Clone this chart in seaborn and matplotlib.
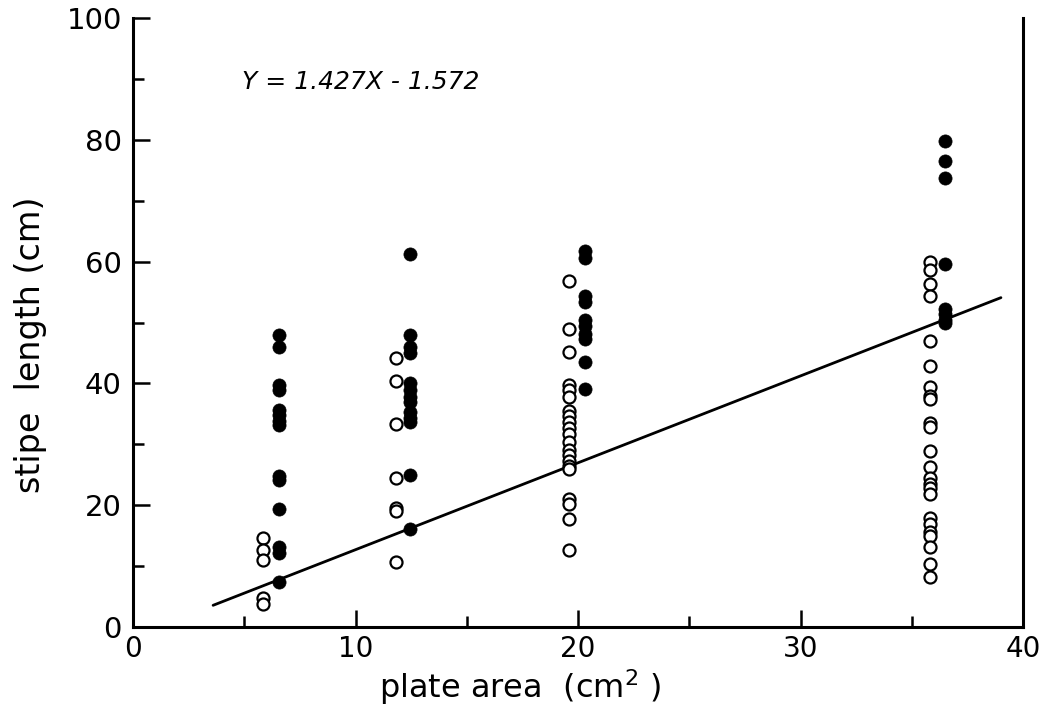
import matplotlib
matplotlib.use("Agg")
import matplotlib.pyplot as plt
import seaborn as sns
import pandas as pd
import numpy as np
from matplotlib.ticker import MultipleLocator

sns.set_style("ticks")
plt.rcParams['font.family'] = ['DejaVu Sans']
plt.rcParams.update({"text.color": "black", "axes.labelcolor": "black",
                     "xtick.color": "black", "ytick.color": "black",
                     "axes.edgecolor": "black"})

# open circles
open_x = [5.84]*5 + [11.8]*7 + [19.6]*21 + [35.8]*24
open_y = [14.6, 12.6, 11.0, 4.8, 3.8,
          44.2, 40.4, 33.3, 24.5, 19.5, 19.0, 10.7,
          56.8, 48.9, 45.2, 39.7, 38.9, 37.8, 35.5, 34.6, 33.7, 32.7, 31.7, 30.4,
          29.1, 28.2, 27.3, 26.4, 25.9, 21.0, 20.2, 17.7, 12.6,
          59.9, 58.6, 56.3, 54.3, 47.0, 42.9, 39.4, 37.9, 37.4, 33.5, 32.8, 28.9,
          26.3, 24.5, 23.5, 22.8, 21.8, 17.9, 16.9, 15.6, 14.9, 13.1, 10.3, 8.2]
# filled circles
fill_x = [6.56]*14 + [12.45]*13 + [20.3]*10 + [36.5]*8
fill_y = [47.9, 46.0, 39.7, 38.9, 35.6, 34.8, 33.8, 33.1, 24.8, 24.1, 19.4, 13.1, 12.2, 7.4,
          61.2, 47.9, 46.0, 45.0, 40.1, 38.9, 37.8, 36.9, 35.3, 34.3, 33.7, 25.0, 16.1,
          61.7, 60.6, 54.3, 53.4, 50.4, 49.4, 48.1, 47.3, 43.5, 39.1,
          79.8, 76.5, 73.7, 59.6, 52.2, 51.4, 50.4, 49.9]

slope, intercept = 1.427, -1.572
line_x = [3.6, 39.0]

x_ticks = [0, 10, 20, 30, 40]
y_ticks = [0, 20, 40, 60, 80, 100]

df_open = pd.DataFrame({"x": open_x, "y": open_y})
df_fill = pd.DataFrame({"x": fill_x, "y": fill_y})
df_line = pd.DataFrame({"x": line_x, "y": [slope*v + intercept for v in line_x]})

fig = plt.figure(figsize=(10.43, 7.05), dpi=100)
ax = fig.add_axes([0.1275, 0.1106, 0.981-0.1275, 0.9745-0.1106])

sns.lineplot(data=df_line, x="x", y="y", ax=ax, color="black", lw=2)
sns.scatterplot(data=df_open, x="x", y="y", ax=ax, s=75, facecolor="white",
                edgecolor="black", linewidth=1.6, zorder=3)
sns.scatterplot(data=df_fill, x="x", y="y", ax=ax, s=90, color="black",
                edgecolor="black", linewidth=0.5, zorder=4)

ax.set_xlim(0, 40)
ax.set_ylim(0, 100)
ax.set_xticks(x_ticks)
ax.set_yticks(y_ticks)
ax.xaxis.set_minor_locator(MultipleLocator(5))
ax.yaxis.set_minor_locator(MultipleLocator(10))
ax.tick_params(axis="y", which="major", direction="in", length=12, width=1.8, pad=8,
               labelsize=21)
ax.tick_params(axis="x", which="major", direction="in", length=12, width=1.8, pad=6,
               labelsize=20)
ax.tick_params(axis="both", which="minor", direction="in", length=8, width=1.8)
ax.spines["top"].set_visible(False)
for s in ["left", "bottom", "right"]:
    ax.spines[s].set_linewidth(2.2)
for lab in ax.get_yticklabels() + ax.get_xticklabels():
    lab.set_fontweight("medium")

ax.set_xlabel("plate area  (cm$^2$ )", fontsize=23)
ax.xaxis.set_label_coords(0.435, -0.066)
ax.set_ylabel("stipe  length (cm)", fontsize=24)
ax.yaxis.set_label_coords(-0.097, 0.463)
ax.text(4.9, 89.5, "Y = 1.427X - 1.572", fontsize=18, style="italic", ha="left", va="center")

fig.savefig("out.png", dpi=100)
